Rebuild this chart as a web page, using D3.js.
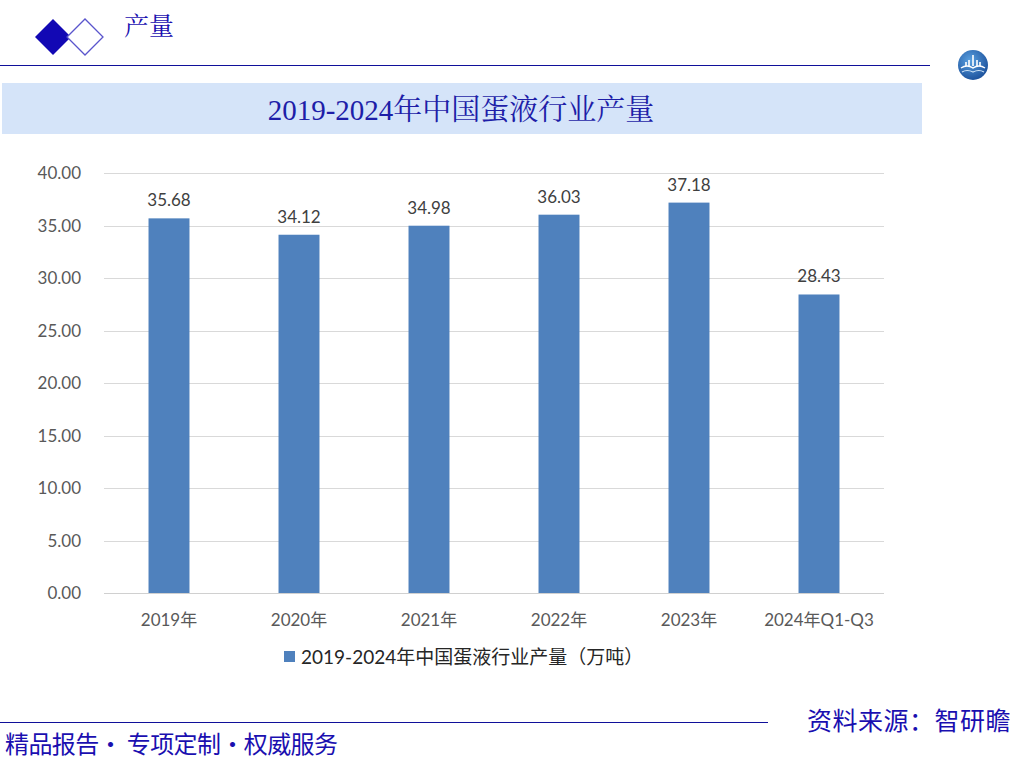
<!DOCTYPE html>
<html><head><meta charset="utf-8">
<script src="https://cdn.jsdelivr.net/npm/d3@7"></script>
<style>body{margin:0;background:#fff}svg{display:block}</style>
</head><body>
<svg id="c" width="1015" height="759"></svg>
<script>
const categories = ["2019年","2020年","2021年","2022年","2023年","2024年Q1-Q3"];
const values = [35.68, 34.12, 34.98, 36.03, 37.18, 28.43];
const yTicks = [0,5,10,15,20,25,30,35,40];
const seriesName = "2019-2024年中国蛋液行业产量（万吨）";
const chartTitle = "2019-2024年中国蛋液行业产量";
const header = "产量";
const footerLeft = "精品报告· 专项定制·权威服务";
const footerRight = "资料来源：智研瞻";

const svg = d3.select("#c");
const navy = "#1a0fb0";
const labelFont = "Lato, 'Noto Sans CJK SC', sans-serif";

// header
svg.append("path").attr("d","M35,37 L53,19 L71,37 L53,55 Z").attr("fill","#1208b4");
svg.append("path").attr("d","M67,37 L85,19 L103,37 L85,55 Z").attr("fill","#fff").attr("stroke","#5a55cc").attr("stroke-width",1.3);
svg.append("text").attr("x",124).attr("y",35).text(header)
  .attr("font-family","'Noto Serif CJK SC','Noto Sans CJK SC',serif").attr("font-size",25).attr("fill",navy);
svg.append("line").attr("x1",0).attr("x2",930).attr("y1",65.5).attr("y2",65.5).attr("stroke","#10109a").attr("stroke-width",1.2);

// logo
const defs = svg.append("defs");
const g = defs.append("radialGradient").attr("id","lg").attr("cx","40%").attr("cy","35%").attr("r","70%");
g.append("stop").attr("offset","0%").attr("stop-color","#5aa0e0");
g.append("stop").attr("offset","100%").attr("stop-color","#1a4f9a");
svg.append("circle").attr("cx",973).attr("cy",65).attr("r",15).attr("fill","url(#lg)");
svg.append("path").attr("d","M961,68 Q967,64 973,68 Q979,64 985,68").attr("fill","none").attr("stroke","#fff").attr("stroke-width",1.5);
svg.append("path").attr("d","M962,72 Q967,69 973,72 Q979,69 984,72").attr("fill","none").attr("stroke","#cfe4f7").attr("stroke-width",1.2);
[[966,62],[969,60],[973,55],[977,60],[980,62]].forEach(([x,y])=>{
  svg.append("rect").attr("x",x-0.8).attr("y",y).attr("width",1.6).attr("height",66-y).attr("fill","#fff");
});

// title banner
svg.append("rect").attr("x",2).attr("y",83).attr("width",920).attr("height",51).attr("fill","#d5e4f9");
svg.append("text").attr("x",461).attr("y",120).attr("text-anchor","middle").text(chartTitle)
  .attr("font-family","'Liberation Serif','Noto Serif CJK SC','Noto Sans CJK SC',serif").attr("font-size",29).attr("fill","#1e1ea8");

// chart
const x = d3.scaleBand().domain(categories).range([104,884]).paddingInner(0.685).paddingOuter(0.3425);
const y = d3.scaleLinear().domain([0,40]).range([593,173]);

svg.append("g").selectAll("line").data(yTicks).join("line")
  .attr("x1",104).attr("x2",884).attr("y1",d=>Math.round(y(d))+0.5).attr("y2",d=>Math.round(y(d))+0.5)
  .attr("stroke",d=>d===0?"#d0d0d0":"#d9d9d9").attr("stroke-width",1);

svg.append("g").selectAll("text").data(yTicks).join("text")
  .attr("x",81).attr("y",d=>y(d)+6).attr("text-anchor","end")
  .attr("font-family",labelFont).attr("font-size",17).attr("fill","#595959")
  .text(d=>d3.format(".2f")(d));

svg.append("g").selectAll("rect").data(values).join("rect")
  .attr("x",(d,i)=>x(categories[i])).attr("width",x.bandwidth())
  .attr("y",d=>y(d)).attr("height",d=>y(0)-y(d)).attr("fill","#4f81bd");

svg.append("g").selectAll("text").data(values).join("text")
  .attr("x",(d,i)=>x(categories[i])+x.bandwidth()/2).attr("y",d=>y(d)-12)
  .attr("text-anchor","middle").attr("font-family",labelFont).attr("font-size",17).attr("fill","#404040")
  .text(d=>d3.format(".2f")(d));

svg.append("g").selectAll("text").data(categories).join("text")
  .attr("x",d=>x(d)+x.bandwidth()/2).attr("y",626).attr("text-anchor","middle")
  .attr("font-family",labelFont).attr("font-size",17).attr("fill","#595959").text(d=>d);

// legend
svg.append("rect").attr("x",284).attr("y",651).attr("width",11).attr("height",11).attr("fill","#4f81bd");
svg.append("text").attr("x",301).attr("y",664).text(seriesName)
  .attr("font-family",labelFont).attr("font-size",19).attr("fill","#262626");

// footer
svg.append("line").attr("x1",0).attr("x2",768).attr("y1",722.5).attr("y2",722.5).attr("stroke","#10109a").attr("stroke-width",1.2);
svg.append("text").attr("x",5).attr("y",753).text(footerLeft)
  .attr("font-family","'Noto Sans CJK SC',sans-serif").attr("font-size",24).attr("letter-spacing",-0.6).attr("fill",navy);
svg.append("text").attr("x",1011).attr("y",730).attr("text-anchor","end").text(footerRight)
  .attr("font-family","'Noto Sans CJK SC',sans-serif").attr("font-size",25).attr("letter-spacing",0.5).attr("fill",navy);
</script>
</body></html>
